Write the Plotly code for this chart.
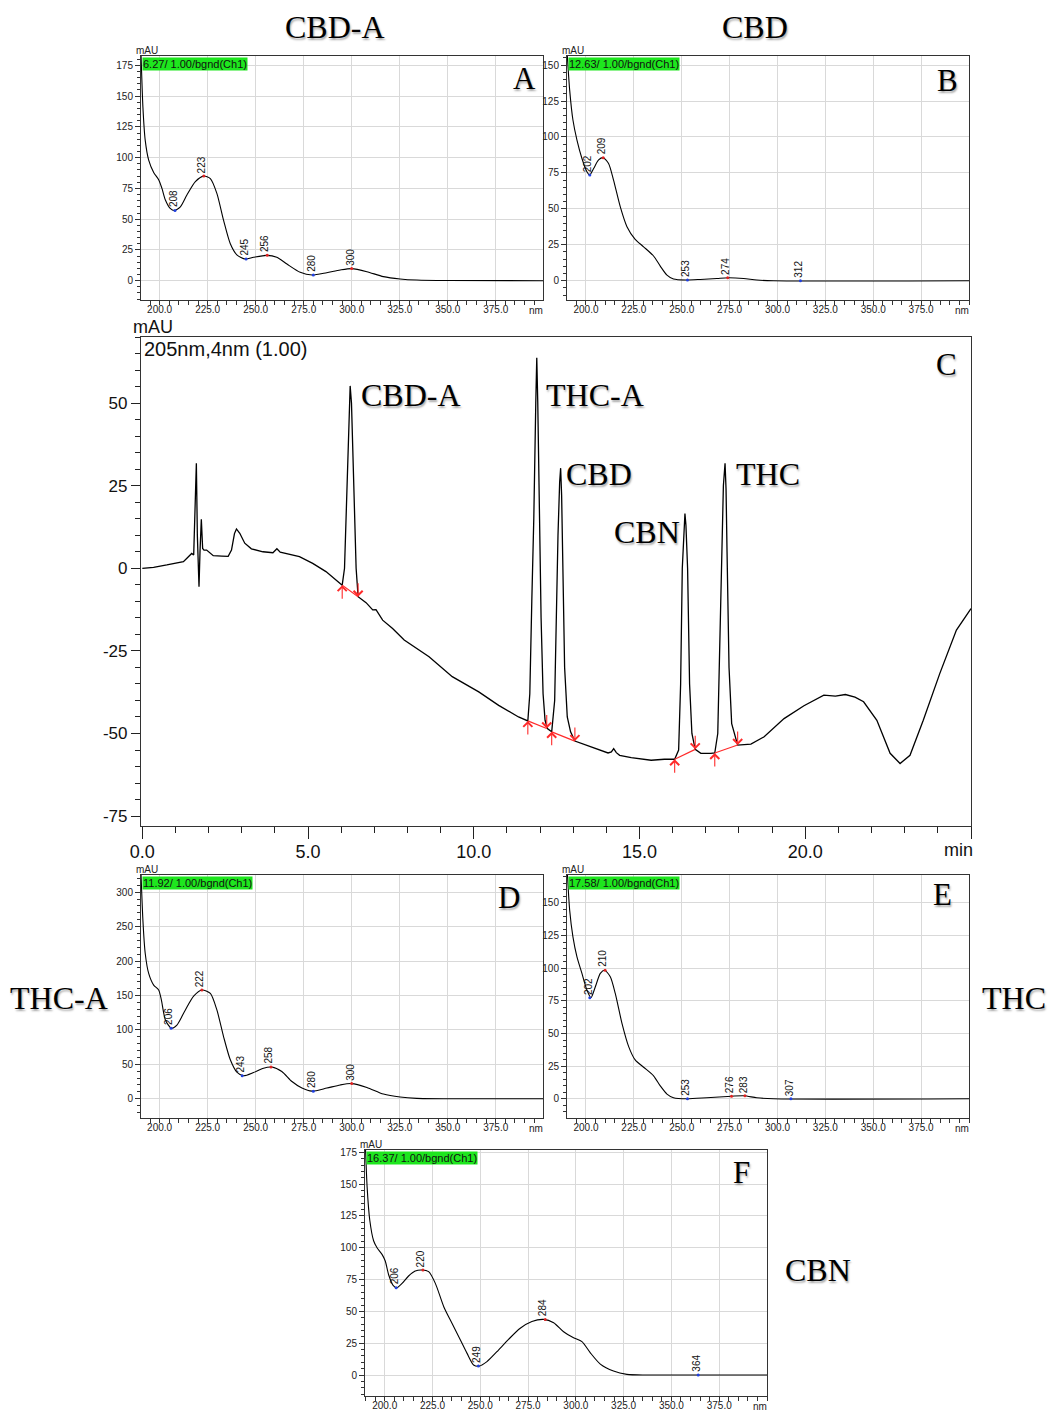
import plotly.graph_objects as go

W, H = 1048, 1412

# ---------------- UV spectra (wavelength nm vs absorbance mAU) ----------------
a_nm = [190.2, 191.3, 192.5, 194.3, 196.9, 199.5, 201.2, 203.0, 205.5, 207.6, 210.8, 214.2, 218.6, 222.9,
        226.4, 229.8, 233.3, 236.8, 240.2, 244.6, 248.9, 255.8, 261.0, 266.3, 273.2, 279.4, 287.0, 294.0,
        300.0, 307.9, 316.5, 325.2, 333.9, 350.0, 400.0]
a_mAU = [190, 141, 114, 98, 88, 82, 75, 65.6, 58.8, 57, 60, 69.6, 80.5, 85,
         83, 71, 49, 30, 21, 17.6, 19, 20.6, 19, 13.5, 6.8, 4.6, 6.5, 8.7,
         9.8, 7.3, 3.3, 1.4, 0.5, 0.1, 0]
a_pk_nm = [208, 223, 245, 256, 280, 300]
a_pk_val = [57.0, 85.0, 17.6, 20.6, 4.6, 9.8]
a_pk_max = [0, 1, 0, 1, 0, 1]

b_nm = [190.1, 191.5, 193.2, 195.3, 197.9, 200.5, 201.9, 204.0, 206.6, 208.9, 211.8, 214.4, 217.9, 221.4,
        225.7, 230.1, 235.3, 238.8, 242.3, 245.7, 252.2, 259.7, 268.4, 274.1, 282.3, 289.2, 297.9, 400.0]
b_mAU = [160, 132.6, 111.8, 97.8, 85, 75.8, 73.5, 78, 84, 85.6, 81.6, 70, 51.5, 37.6,
         28.8, 23.6, 17.2, 10.2, 3.9, 1.2, 0.5, 0.9, 1.6, 2.1, 1.6, 0.5, 0, 0]
b_pk_nm = [202, 209, 253, 274, 312]
b_pk_val = [73.5, 85.6, 0.5, 2.1, 0.0]
b_pk_max = [0, 1, 0, 1, 0]

d_nm = [190.2, 191.3, 192.5, 194.3, 196.9, 199.5, 200.9, 203.0, 206.1, 209.0, 213.4, 217.7, 222.0, 226.4,
        229.8, 233.3, 236.8, 240.2, 243.7, 248.9, 254.1, 258.4, 263.6, 268.9, 274.1, 279.3, 287.1, 294.0,
        300.0, 307.9, 316.5, 325.2, 333.9, 350.0, 400.0]
d_mAU = [335, 259, 211, 182, 165, 158, 143.5, 114.5, 102.4, 107, 129, 149, 158, 153,
         129, 90, 56.5, 38.6, 33.3, 38, 44.4, 46, 39.6, 25, 15.5, 11, 15.5, 20,
         22, 16.4, 6.8, 2.4, 0.5, 0, 0]
d_pk_nm = [206, 222, 243, 258, 280, 300]
d_pk_val = [102.4, 158.0, 33.3, 46.0, 11.0, 22.0]
d_pk_max = [0, 1, 0, 1, 0, 1]

e_nm = [190.1, 191.5, 193.2, 195.3, 197.9, 200.5, 202.6, 204.9, 207.5, 209.7, 212.7, 215.3, 218.8, 222.3,
        225.7, 230.1, 235.3, 238.8, 242.3, 245.7, 252.7, 263.1, 276.2, 282.6, 289.2, 297.9, 400.0]
e_mAU = [178, 144.4, 124, 108.7, 96, 83.3, 77.4, 85.8, 96, 98.5, 93.5, 80.7, 57.8, 40,
         29.8, 24.2, 17.6, 9.9, 3.6, 0.8, 0, 0.8, 2, 2.3, 0.8, 0, 0]
e_pk_nm = [202, 210, 253, 276, 283, 307]
e_pk_val = [77.4, 98.5, 0.0, 2.0, 2.3, 0.0]
e_pk_max = [0, 1, 0, 1, 1, 0]

f_nm = [189.8, 190.8, 192.2, 194.2, 196.0, 198.6, 200.3, 202.1, 204.4, 206.4, 209.1, 212.5, 216.0, 219.5,
        223.0, 226.5, 230.9, 235.2, 239.6, 243.1, 246.5, 249.5, 253.5, 258.7, 264.8, 270.9, 277.0, 283.1,
        288.4, 293.6, 298.8, 303.2, 307.5, 312.8, 319.7, 326.7, 337.2, 400.0]
f_mAU = [185, 148, 121.6, 105.5, 100, 94.8, 89.6, 78.6, 70.5, 68.6, 72, 77.8, 81.7, 82.5,
         81.2, 72, 53.7, 40.6, 27.5, 17, 7.9, 7, 10.5, 18.3, 28, 36.7, 42, 43.7,
         41.1, 34, 29.3, 26.2, 17.6, 8.6, 3.1, 0.5, 0, 0]
f_pk_nm = [206, 220, 249, 284, 364]
f_pk_val = [68.6, 82.5, 7.0, 43.7, 0.0]
f_pk_max = [0, 1, 0, 1, 0]

spec_xticks = [200, 225, 250, 275, 300, 325, 350, 375]
spec_xticktext = ['200.0', '225.0', '250.0', '275.0', '300.0', '325.0', '350.0', '375.0']

# ---------------- Chromatogram (205 nm) ----------------
chrom_t = [0.00, 0.34, 0.74, 1.24, 1.39, 1.49, 1.55, 1.60, 1.63, 1.66, 1.69, 1.71, 1.74, 1.78, 1.82, 1.86,
           1.94, 2.14, 2.40, 2.59, 2.69, 2.78, 2.84, 2.94, 3.09, 3.29, 3.64, 3.94, 4.06, 4.16, 4.74, 5.14,
           5.54, 5.79, 6.03,
           6.10, 6.18, 6.24, 6.27, 6.31, 6.37, 6.45, 6.51,
           6.75, 6.95, 7.05, 7.25, 7.55, 7.90, 8.65, 9.35, 10.15, 10.75, 11.35, 11.63,
           11.69, 11.75, 11.81, 11.87, 11.90, 11.93, 11.98, 12.03, 12.09, 12.15, 12.22,
           12.35,
           12.44, 12.50, 12.54, 12.59, 12.62, 12.65, 12.68, 12.74, 12.82, 12.92, 13.05,
           13.40, 13.75, 14.05, 14.15, 14.22, 14.30, 14.40, 14.75, 15.35, 15.75, 16.06,
           16.18, 16.24, 16.29, 16.34, 16.37, 16.40, 16.45, 16.51, 16.58, 16.68,
           16.85, 17.15, 17.27,
           17.36, 17.42, 17.47, 17.53, 17.58, 17.61, 17.64, 17.70, 17.78, 17.96,
           18.36, 18.76, 19.36, 19.96, 20.56, 20.91, 21.21, 21.50, 21.76, 22.16, 22.56, 22.86,
           23.16, 23.56, 24.06, 24.56, 25.00]
chrom_mAU = [0.0, 0.3, 1.0, 2.0, 3.5, 4.5, 4.0, 20.0, 31.8, 10.0, -3.0, -5.6, 5.0, 14.8, 6.0, 5.5,
             5.5, 3.8, 3.7, 3.6, 5.5, 10.5, 11.9, 10.6, 7.6, 5.9, 5.0, 4.7, 5.9, 4.9, 3.5, 1.5,
             -1.0, -3.0, -5.1,
             0.0, 25.0, 50.0, 55.2, 50.0, 25.0, 0.0, -8.6,
             -10.4, -12.6, -12.5, -15.7, -18.2, -21.7, -26.8, -32.8, -37.4, -41.5, -45.0, -46.2,
             -38.0, -10.0, 15.0, 50.0, 63.7, 50.0, 15.0, -15.0, -38.0, -46.0, -48.5,
             -49.5,
             -40.0, -5.0, 10.0, 26.0, 30.3, 22.0, 0.0, -30.0, -45.0, -49.5, -52.3,
             -53.5, -54.9, -55.9, -55.6, -54.6, -55.8, -56.6, -57.3, -58.1, -57.8, -57.8,
             -55.0, -35.0, 0.0, 13.0, 16.6, 13.0, 0.0, -35.0, -50.0, -54.8,
             -56.0, -56.0, -55.9,
             -50.0, -20.0, 5.0, 25.0, 31.8, 24.0, 5.0, -30.0, -47.0, -53.5,
             -53.2, -51.0, -45.5, -41.6, -38.4, -38.7, -38.2, -39.0, -40.4, -46.0, -56.0, -59.1,
             -56.6, -46.0, -31.8, -18.7, -12.2]

# integration baselines (start / end of each peak)
bl_start_t = [6.03, 11.63, 12.35, 16.06, 17.27]
bl_start_y = [-5.1, -46.2, -49.5, -57.8, -55.9]
bl_end_t = [6.51, 12.20, 13.05, 16.68, 17.96]
bl_end_y = [-8.6, -48.5, -52.3, -54.8, -53.5]

chrom_xticks = [0, 5, 10, 15, 20, 25]
chrom_xticktext = ['0.0', '5.0', '10.0', '15.0', '20.0', '']
chrom_yticks = [-75, -50, -25, 0, 25, 50]
chrom_yticktext = ['-75', '-50', '-25', '0', '25', '50']

SANS = 'Arial, Liberation Sans, sans-serif'
SERIF = 'Times New Roman, Liberation Serif, serif'
SHADOW = '1px 2px 2px rgba(0,0,0,0.35)'
GREEN = '#1ee61e'

fig = go.Figure()
annotations = []
layout = dict(template='none', width=W, height=H, autosize=False,
              margin=dict(l=0, r=0, t=0, b=0, pad=0, autoexpand=False),
              paper_bgcolor='white', plot_bgcolor='white', showlegend=False)


def px(x):
    return x / W


def py(y):
    return 1 - y / H


spectra = [
    (1, a_nm, a_mAU, (141, 56, 543, 300), [190.3, 399.6], [-15.7, 182.6], 25, 5, '6.27/ 1.00/bgnd(Ch1)',
     a_pk_nm, a_pk_val, a_pk_max, 'A', (524, 78)),
    (2, b_nm, b_mAU, (567, 56, 969, 300), [190.1, 400.0], [-13.4, 156.3], 25, 5, '12.63/ 1.00/bgnd(Ch1)',
     b_pk_nm, b_pk_val, b_pk_max, 'B', (947, 80)),
    (4, d_nm, d_mAU, (141, 875, 543, 1118), [190.3, 399.6], [-28, 325], 50, 10, '11.92/ 1.00/bgnd(Ch1)',
     d_pk_nm, d_pk_val, d_pk_max, 'D', (509, 898)),
    (5, e_nm, e_mAU, (567, 875, 969, 1118), [190.1, 400.0], [-14.7, 171.4], 25, 5, '17.58/ 1.00/bgnd(Ch1)',
     e_pk_nm, e_pk_val, e_pk_max, 'E', (942, 895)),
    (6, f_nm, f_mAU, (365, 1150, 767, 1396), [189.7, 400.0], [-16.5, 176.8], 25, 5, '16.37/ 1.00/bgnd(Ch1)',
     f_pk_nm, f_pk_val, f_pk_max, 'F', (741, 1172)),
]

for idx, nm, val, box, xr, yr, dt, mdt, tag, pk_nm, pk_val, pk_max, letter, lpos in spectra:
    xref = f'x{idx}' if idx > 1 else 'x'
    yref = f'y{idx}' if idx > 1 else 'y'
    xkey = f'xaxis{idx}' if idx > 1 else 'xaxis'
    ykey = f'yaxis{idx}' if idx > 1 else 'yaxis'
    l, t, r, b = box
    fig.add_trace(go.Scatter(x=nm, y=val, mode='lines', xaxis=xref, yaxis=yref,
                             line=dict(color='black', width=1.1, shape='spline', smoothing=0.7),
                             hoverinfo='skip'))
    fig.add_trace(go.Scatter(x=pk_nm, y=pk_val, mode='markers', xaxis=xref, yaxis=yref,
                             marker=dict(size=3, color=['#e02020' if m else '#2040e0' for m in pk_max]),
                             hoverinfo='skip', cliponaxis=False))
    layout[xkey] = dict(domain=[px(l), px(r)], range=xr, anchor=yref, automargin=False,
                        tickmode='array', tickvals=spec_xticks, ticktext=spec_xticktext,
                        ticks='outside', ticklen=4, tickcolor='#333', tickwidth=1,
                        ticklabelstandoff=-4,
                        minor=dict(tickmode='linear', tick0=0, dtick=5, ticks='outside', ticklen=4,
                                   tickcolor='#333', showgrid=False),
                        showgrid=True, gridcolor='#d9d9d9', gridwidth=1,
                        showline=True, linecolor='#333', linewidth=1, mirror=True, zeroline=False,
                        tickfont=dict(family=SANS, size=10, color='#222'), fixedrange=True)
    layout[ykey] = dict(domain=[py(b), py(t)], range=yr, anchor=xref, automargin=False,
                        tickmode='linear', tick0=0, dtick=dt,
                        ticks='outside', ticklen=5, tickcolor='#333', tickwidth=1,
                        minor=dict(tickmode='linear', tick0=0, dtick=mdt, ticks='outside', ticklen=3,
                                   tickcolor='#333', showgrid=False),
                        showgrid=True, gridcolor='#d9d9d9', gridwidth=1,
                        showline=True, linecolor='#333', linewidth=1, mirror=True, zeroline=False,
                        tickfont=dict(family=SANS, size=10, color='#222'), fixedrange=True)
    for n, v in zip(pk_nm, pk_val):
        annotations.append(dict(x=n, y=v, xref=xref, yref=yref, text=str(n), textangle=-90,
                                showarrow=False, xanchor='center', yanchor='bottom', xshift=-2, yshift=1,
                                font=dict(family=SANS, size=10, color='#111')))
    annotations.append(dict(x=px(l + 1), y=py(t + 1), xref='paper', yref='paper', text=tag,
                            showarrow=False, xanchor='left', yanchor='top', bgcolor=GREEN, borderpad=0,
                            font=dict(family=SANS, size=11, color='#111')))
    annotations.append(dict(x=px(l + 6), y=py(t - 6), xref='paper', yref='paper', text='mAU',
                            showarrow=False, xanchor='center', yanchor='middle',
                            font=dict(family=SANS, size=10, color='#222')))
    annotations.append(dict(x=px(r - 7), y=py(b + 10), xref='paper', yref='paper', text='nm',
                            showarrow=False, xanchor='center', yanchor='middle',
                            font=dict(family=SANS, size=10, color='#222')))
    annotations.append(dict(x=px(lpos[0]), y=py(lpos[1]), xref='paper', yref='paper', text=letter,
                            showarrow=False, xanchor='center', yanchor='middle',
                            font=dict(family=SERIF, size=31, color='black', shadow=SHADOW)))

# ---------------- Chromatogram panel C ----------------
fig.add_trace(go.Scatter(x=chrom_t, y=chrom_mAU, mode='lines', xaxis='x3', yaxis='y3',
                         line=dict(color='black', width=1.3), hoverinfo='skip'))
seg_x, seg_y = [], []
for s, sy, e, ey in zip(bl_start_t, bl_start_y, bl_end_t, bl_end_y):
    seg_x += [s, e, None]
    seg_y += [sy, ey, None]
fig.add_trace(go.Scatter(x=seg_x, y=seg_y, mode='lines', xaxis='x3', yaxis='y3',
                         line=dict(color='#ff2a2a', width=1.2), hoverinfo='skip'))
for s, sy in zip(bl_start_t, bl_start_y):
    annotations.append(dict(x=s, y=sy, xref='x3', yref='y3', text='', showarrow=True,
                            ax=0, ay=15, axref='pixel', ayref='pixel', arrowhead=4, arrowsize=1.6,
                            arrowwidth=1.1, arrowcolor='#ff2a2a'))
for e, ey in zip(bl_end_t, bl_end_y):
    annotations.append(dict(x=e, y=ey, xref='x3', yref='y3', text='', showarrow=True,
                            ax=0, ay=-15, axref='pixel', ayref='pixel', arrowhead=4, arrowsize=1.6,
                            arrowwidth=1.1, arrowcolor='#ff2a2a'))

layout['xaxis3'] = dict(domain=[px(141), px(971)], range=[-0.04, 25.0], anchor='y3', automargin=False,
                        tickmode='array', tickvals=chrom_xticks, ticktext=chrom_xticktext,
                        ticks='outside', ticklen=12, tickcolor='#222', tickwidth=1.2,
                        ticklabelstandoff=-3,
                        minor=dict(tickmode='linear', tick0=0, dtick=1, ticks='outside', ticklen=6,
                                   tickcolor='#222', showgrid=False),
                        showgrid=False, showline=True, linecolor='#333', linewidth=1.2, mirror=True,
                        zeroline=False, tickfont=dict(family=SANS, size=18, color='#111'), fixedrange=True)
layout['yaxis3'] = dict(domain=[py(826), py(337)], range=[-78, 70], anchor='x3', automargin=False,
                        tickmode='array', tickvals=chrom_yticks, ticktext=chrom_yticktext,
                        ticks='outside', ticklen=9, tickcolor='#222', tickwidth=1.2,
                        minor=dict(tickmode='linear', tick0=0, dtick=5, ticks='outside', ticklen=5,
                                   tickcolor='#222', showgrid=False),
                        showgrid=False, showline=True, linecolor='#333', linewidth=1.2, mirror=True,
                        zeroline=False, tickfont=dict(family=SANS, size=17, color='#111'), fixedrange=True)

annotations.append(dict(x=px(958), y=py(850), xref='paper', yref='paper', text='min', showarrow=False,
                        xanchor='center', yanchor='middle', font=dict(family=SANS, size=18, color='#111')))
annotations.append(dict(x=px(153), y=py(327), xref='paper', yref='paper', text='mAU', showarrow=False,
                        xanchor='center', yanchor='middle', font=dict(family=SANS, size=18, color='#111')))
annotations.append(dict(x=px(142), y=py(349), xref='paper', yref='paper', text='205nm,4nm (1.00)',
                        showarrow=False, xanchor='left', yanchor='middle',
                        font=dict(family=SANS, size=20, color='#111')))
annotations.append(dict(x=px(946), y=py(364), xref='paper', yref='paper', text='C', showarrow=False,
                        xanchor='center', yanchor='middle',
                        font=dict(family=SERIF, size=31, color='black', shadow=SHADOW)))

compound_labels = [
    ('CBD-A', 411, 395), ('THC-A', 595, 395), ('CBD', 599, 474), ('CBN', 647, 532), ('THC', 768, 474),
    ('CBD-A', 335, 27), ('CBD', 755, 27), ('THC-A', 59, 998), ('THC', 1014, 998), ('CBN', 818, 1270),
]
for txt, x0, y0 in compound_labels:
    annotations.append(dict(x=px(x0), y=py(y0), xref='paper', yref='paper', text=txt, showarrow=False,
                            xanchor='center', yanchor='middle',
                            font=dict(family=SERIF, size=32, color='black', shadow=SHADOW)))

layout['annotations'] = annotations
fig.update_layout(**layout)
fig.write_html('out.html')
